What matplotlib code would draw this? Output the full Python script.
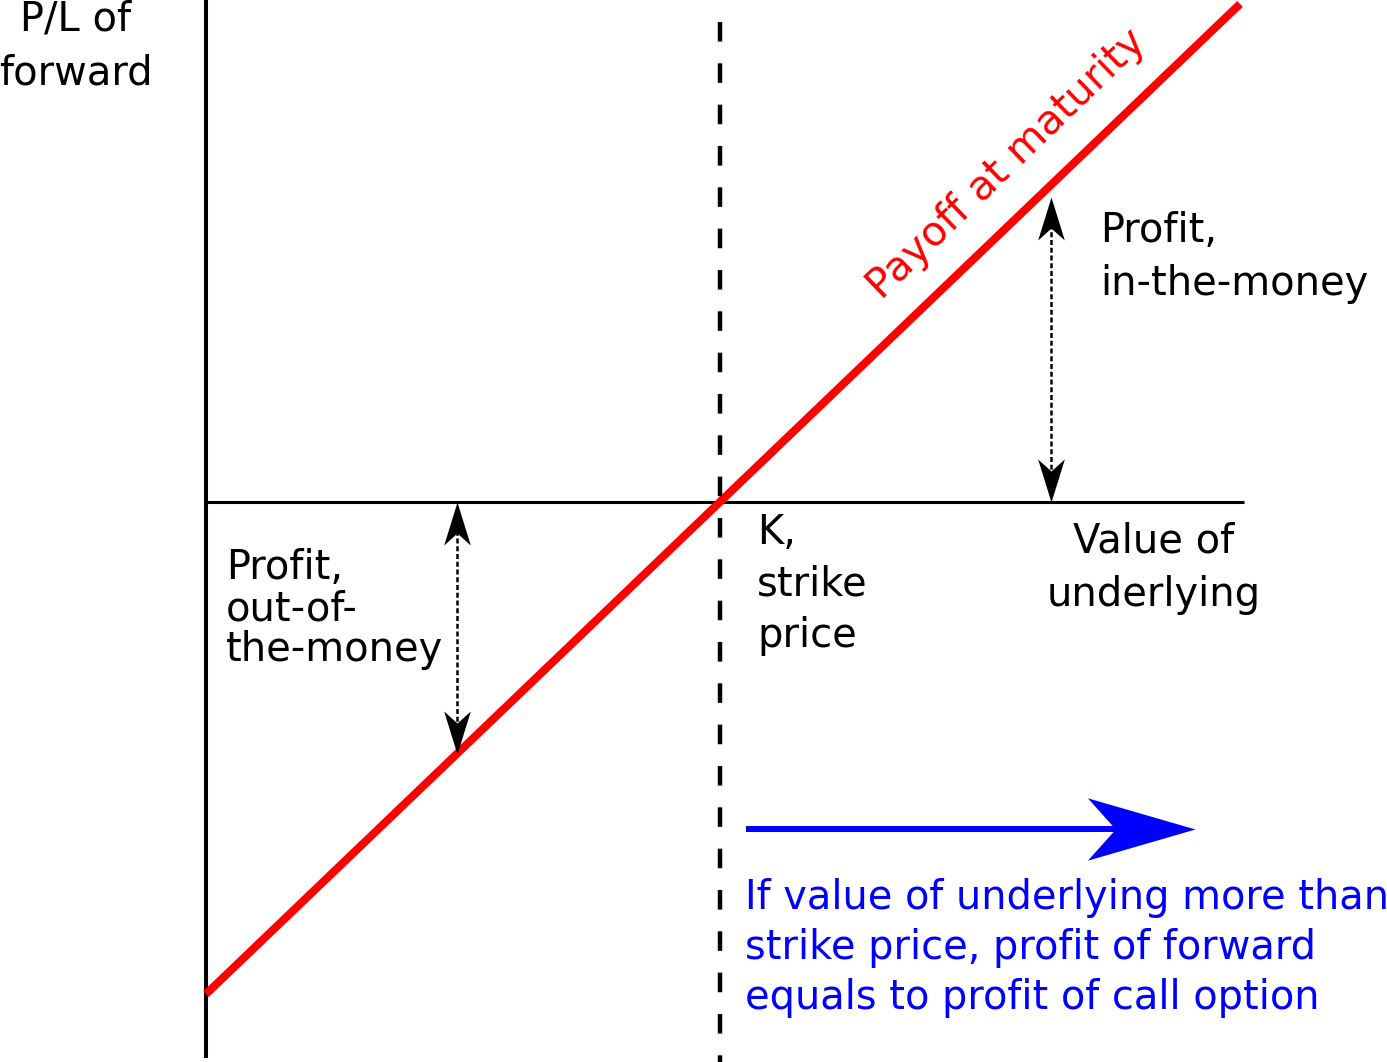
import numpy as np
import matplotlib
matplotlib.use('Agg')
import matplotlib.pyplot as plt
from matplotlib.path import Path

# forward payoff diagram data
strike = 50.0
underlying = np.array([0.0, 100.6])
payoff = underlying - strike
s_otm = 24.4   # example spot, out of the money
s_itm = 82.2   # example spot, in the money
axis_end = 101.0

fig = plt.figure(figsize=(13.87, 10.62), dpi=100)
ax = fig.add_axes([0, 0, 1, 1])
ax.set_xlim(-20.04, 114.9)
ax.set_ylim(-56.9, 51.0)
ax.axis('off')

# axes of the diagram
ax.plot([0, 0], [-56.5, 51.0], color='black', lw=2.9, solid_capstyle='butt')
ax.plot([0, axis_end], [0, 0], color='black', lw=2.2, solid_capstyle='butt')

# payoff line
ax.plot(underlying, payoff, color='#ff0000', lw=5.8, solid_capstyle='butt', zorder=3)

# strike
ax.plot([strike, strike], [48.8, -56.9], color='black', lw=3.2,
        linestyle=(0, (4.4, 4.9)), zorder=4)

# arrow head markers
up_head = Path([(0, 0), (-0.31, -1), (0, -0.72), (0.31, -1), (0, 0)],
               [Path.MOVETO, Path.LINETO, Path.LINETO, Path.LINETO, Path.CLOSEPOLY])
down_head = Path([(0, 0), (-0.31, 1), (0, 0.72), (0.31, 1), (0, 0)],
                 [Path.MOVETO, Path.LINETO, Path.LINETO, Path.LINETO, Path.CLOSEPOLY])
right_head = Path([(0, 0), (-1, 0.29), (-0.74, 0), (-1, -0.29), (0, 0)],
                  [Path.MOVETO, Path.LINETO, Path.LINETO, Path.LINETO, Path.CLOSEPOLY])

def double_arrow(x, y0, y1):
    lo, hi = min(y0, y1), max(y0, y1)
    ax.plot([x, x], [lo + 2.5, hi - 2.5], color='black', lw=1.8,
            linestyle=(0, (2, 1.1)), zorder=5)
    ax.plot([x], [hi], marker=up_head, ms=62, color='black', mew=0, zorder=5)
    ax.plot([x], [lo], marker=down_head, ms=62, color='black', mew=0, zorder=5)

double_arrow(s_otm, 0, s_otm - strike)
double_arrow(s_itm, 0, s_itm - strike - 1.2)

# blue arrow
ax.plot([52.5, 92.0], [-33.2, -33.2], color='#0000ff', lw=4.3, solid_capstyle='butt')
ax.plot([96.2], [-33.2], marker=right_head, ms=155, color='#0000ff', mew=0)

# labels
fs = 28.8
ax.text(-12.7, 51.0, 'P/L of\nforward', fontsize=fs, ha='center', va='top',
        linespacing=1.42)
ax.text(87.0, 29.6, 'Profit,\nin-the-money', fontsize=fs, ha='left', va='top',
        linespacing=1.42)
ax.text(92.2, -2.0, 'Value of\nunderlying', fontsize=fs, ha='center', va='top',
        linespacing=1.42)
ax.text(53.6, -1.1, 'K,\nstrike\nprice', fontsize=fs, ha='left', va='top',
        linespacing=1.38)
ax.text(1.95, -4.7, 'Profit,\nout-of-\nthe-money', fontsize=fs, ha='left', va='top',
        linespacing=1.03)
ax.text(77.9, 34.3, 'Payoff at maturity', fontsize=29.5, color='#ff0000',
        ha='center', va='center', rotation=44, rotation_mode='anchor')
ax.text(52.4, -38.2, 'If value of underlying more than\nstrike price, profit of forward\n'
        'equals to profit of call option', fontsize=28.7, color='#0000ff',
        ha='left', va='top', linespacing=1.32)

fig.savefig('out.png', dpi=100)
